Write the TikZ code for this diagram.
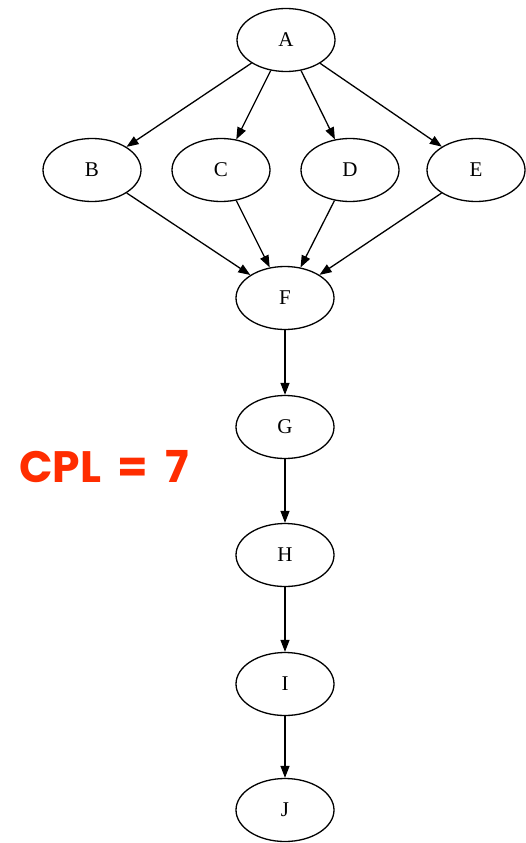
\documentclass[tikz,border=0pt]{standalone}
\usepackage{fontspec}
\setmainfont{Liberation Serif}
\newfontfamily\cplfont{Poppins}
\usetikzlibrary{arrows.meta,shapes.geometric}
\begin{document}
\begin{tikzpicture}[x=1pt,y=-1pt,
  st/.style={ellipse,draw,line width=1.3pt,minimum width=98pt,minimum height=63pt,inner sep=0pt,font=\fontsize{21}{21}\selectfont},
  ed/.style={line width=1.3pt,-{Triangle[length=12pt,width=9pt]}}]
\useasboundingbox (0,0) rectangle (525,843);
\node[st] (A) at (286,40) {A};
\node[st] (B) at (92,170) {B};
\node[st] (C) at (221,170) {C};
\node[st] (D) at (350,170) {D};
\node[st] (E) at (476,170) {E};
\node[st] (F) at (285,298) {F};
\node[st] (G) at (285,427) {G};
\node[st] (H) at (285,555) {H};
\node[st] (I) at (285,684) {I};
\node[st] (J) at (285,810) {J};
\node[font=\cplfont\bfseries\fontsize{44}{44}\selectfont,text={rgb,255:red,255;green,45;blue,0},inner sep=0pt] (cpl) at (104,467) {CPL\hspace{16pt}=\hspace{17pt}7};
\foreach \n in {B,C,D,E} {\draw[ed] (A) -- (\n); \draw[ed] (\n) -- (F);}
\draw[ed] (F) -- (G);
\draw[ed] (G) -- (H);
\draw[ed] (H) -- (I);
\draw[ed] (I) -- (J);
\end{tikzpicture}
\end{document}
